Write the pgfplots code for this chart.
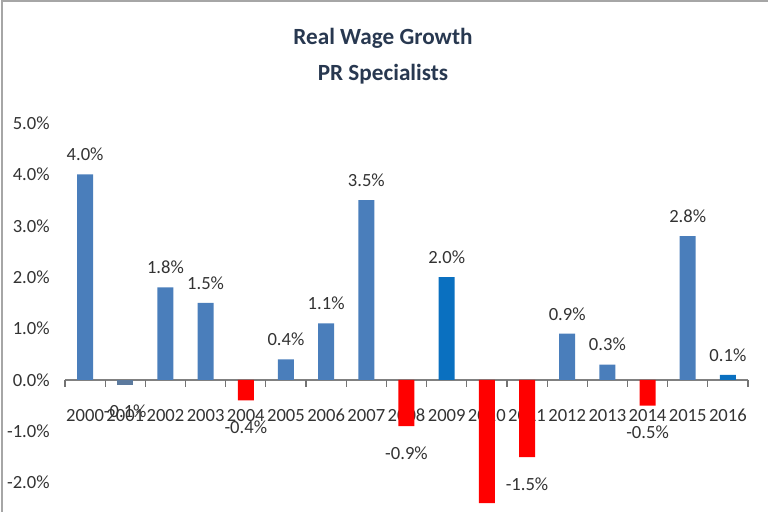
\documentclass[border=0pt]{standalone}
\usepackage{fontspec}
\setmainfont{Carlito}
\usepackage{pgfplots}
\pgfplotsset{compat=1.18}

\definecolor{barblue}{RGB}{74,126,187}
\definecolor{bargrey}{RGB}{92,122,158}
\definecolor{bardark}{RGB}{10,112,192}
\definecolor{barred}{RGB}{255,0,0}
\definecolor{titlecol}{RGB}{40,56,80}

\begin{document}
\begin{tikzpicture}
\useasboundingbox (0,0) rectangle (384pt,256pt);
\draw[black!35, line width=1.2pt] (1pt,0) -- (1pt,255.4pt) -- (384pt,255.4pt);
\node[font=\fontsize{11.6}{14}\selectfont\bfseries, text=titlecol] at (191.5pt,237pt) {Real Wage Growth};
\node[font=\fontsize{11.6}{14}\selectfont\bfseries, text=titlecol] at (191.5pt,219pt) {PR Specialists};
\begin{axis}[
    at={(32.5pt,0pt)}, anchor=south west,
    scale only axis,
    width=341.5pt, height=194.5pt,
    xmin=-0.5, xmax=16.5,
    ymin=-2.57, ymax=5,
    ybar, bar width=8pt,
    axis x line=middle,
    axis y line=left,
    x axis line style={-, draw=black!50, line width=0.6pt},
    y axis line style={draw=none},
    xtick={0,...,16},
    xticklabels={2000,2001,2002,2003,2004,2005,2006,2007,2008,2009,2010,2011,2012,2013,2014,2015,2016},
    major x tick style={draw=none},
    extra x ticks={-0.5,0.5,...,16.5},
    extra x tick labels={},
    extra x tick style={major tick length=3.5pt, tick align=outside,
        major x tick style={draw=black!55, line width=0.6pt}},
    ytick={-2,-1,...,5},
    ytick style={draw=none},
    yticklabel={\pgfmathprintnumber[fixed,fixed zerofill,precision=1]{\tick}\%},
    xticklabel style={yshift=-9pt},
    yticklabel style={xshift=-2pt},
    tick label style={font=\fontsize{9.3}{11}\selectfont, text=black!80},
    /pgf/number format/assume math mode=true,
    nodes near coords={\pgfmathprintnumber[fixed,fixed zerofill,precision=1,assume math mode=true]{\pgfplotspointmeta}\%},
    nodes near coords align={vertical},
    every node near coord/.append style={font=\fontsize{9.3}{11}\selectfont, text=black!80, inner ysep=6.5pt},
    clip=false,
]
\addplot[fill=barblue, draw=none, bar shift=0pt] coordinates {
    (0,4.0) (2,1.8) (3,1.5) (5,0.4) (6,1.1) (7,3.5) (12,0.9) (13,0.3) (15,2.8)
};
\addplot[fill=bargrey, draw=none, bar shift=0pt,
    every node near coord/.append style={yshift=-3pt}] coordinates {
    (1,-0.1)
};
\addplot[fill=barred, draw=none, bar shift=0pt,
    every node near coord/.append style={yshift=-3.5pt}] coordinates {
    (4,-0.4) (8,-0.9) (10,-2.4) (11,-1.5) (14,-0.5)
};
\addplot[fill=bardark, draw=none, bar shift=0pt] coordinates {
    (9,2.0) (16,0.1)
};
\end{axis}
\end{tikzpicture}
\end{document}
